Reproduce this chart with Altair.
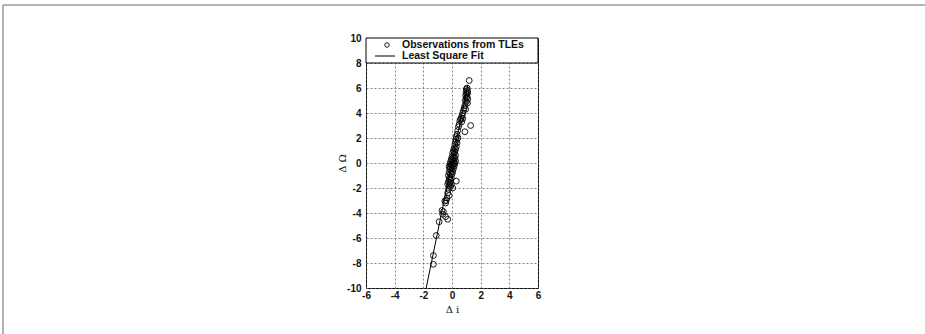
import altair as alt
import pandas as pd

# Observed (delta i, delta Omega) pairs from TLEs
delta_i = [1.2, 1.05, 1.0, 1.08, 0.98, 1.1, 1.02, 0.95, 1.05, 1.0, 1.1, 0.92, 1.0, 1.08,
           0.9, 0.85, 0.95, 0.8, 0.75, 0.7, 0.65, 0.75, 0.6, 0.55, 0.68, 0.5, 1.3, 0.45,
           0.9, 0.4, 0.35, 0.3, 0.42, 0.28, 0.25, 0.35, 0.2, 0.3, 0.15, 0.25, 0.1, 0.2,
           0.05, 0.15, 0.25, 0.0, 0.1, 0.2, -0.05, 0.05, 0.15, 0.25, -0.1, 0.0, 0.1, 0.2,
           -0.15, -0.05, 0.05, 0.15, -0.2, -0.1, 0.0, 0.1, -0.15, -0.05, 0.05, -0.2, -0.1,
           0.0, -0.25, -0.15, -0.05, -0.2, -0.1, 0.3, -0.25, -0.15, -0.3, -0.05, -0.2, -0.1,
           0.05, -0.25, -0.3, -0.2, -0.35, -0.4, -0.5, -0.45, -0.7, -0.6, -0.65, -0.45,
           -0.3, -0.9, -1.1, -1.3, -1.3]
delta_omega = [6.6, 6.0, 5.9, 5.8, 5.7, 5.6, 5.5, 5.4, 5.3, 5.2, 5.1, 5.0, 4.9, 4.8,
               4.6, 4.4, 4.3, 4.2, 4.0, 3.8, 3.6, 3.55, 3.5, 3.4, 3.3, 3.1, 3.0, 2.9,
               2.5, 2.6, 2.3, 2.1, 2.0, 1.9, 1.7, 1.6, 1.5, 1.3, 1.2, 1.1, 1.0, 0.9,
               0.8, 0.7, 0.6, 0.5, 0.45, 0.4, 0.3, 0.25, 0.2, 0.15, 0.1, 0.05, 0.0, -0.05,
               -0.1, -0.15, -0.2, -0.25, -0.3, -0.35, -0.4, -0.45, -0.5, -0.6, -0.7, -0.75, -0.85,
               -0.9, -1.0, -1.1, -1.2, -1.3, -1.4, -1.45, -1.5, -1.6, -1.7, -1.7, -1.8, -1.9,
               -2.0, -2.1, -2.4, -2.6, -2.8, -3.0, -3.05, -3.2, -3.8, -3.9, -4.1, -4.3,
               -4.5, -4.7, -5.8, -7.4, -8.1]

# Least-squares fit: delta_Omega = slope * delta_i + intercept, drawn over this range
fit_slope = 5.6
fit_intercept = 0.08
fit_range = [-1.8, 1.1]

x_ticks = [-6, -4, -2, 0, 2, 4, 6]
y_ticks = [-10, -8, -6, -4, -2, 0, 2, 4, 6, 8, 10]

legend_labels = ["Observations from TLEs", "Least Square Fit"]

W, H = 172, 250

obs = pd.DataFrame({"di": delta_i, "dO": delta_omega})
fit = pd.DataFrame({"di": fit_range,
                    "dO": [fit_slope * v + fit_intercept for v in fit_range]})
one = pd.DataFrame({"k": [0]})

x_scale = alt.Scale(domain=[-6, 6], nice=False, zero=False)
y_scale = alt.Scale(domain=[-10, 10], nice=False, zero=False)

# plain hyphen minus signs on tick labels
plain_label = "datum.value + ''"

x_axis = alt.Axis(values=x_ticks, title="\u0394 i", titleY=21,
                  titleBaseline="middle", titleFontWeight="normal", titleFontSize=10,
                  labelOverlap=False, labelFlush=False, tickCount=len(x_ticks),
                  labelExpr=plain_label)
y_axis = alt.Axis(values=y_ticks, title="\u0394 \u03a9", titleX=-24,
                  titleY=H / 2, titleAngle=-90, titleBaseline="middle",
                  titleFontWeight="normal", titleFontSize=10,
                  labelOverlap=False, labelFlush=False, tickCount=len(y_ticks),
                  labelExpr=plain_label)

points = alt.Chart(obs).mark_point(shape="circle", filled=False, color="black",
                                   size=34, strokeWidth=0.9, opacity=1).encode(
    x=alt.X("di:Q", scale=x_scale, axis=x_axis),
    y=alt.Y("dO:Q", scale=y_scale, axis=y_axis),
)

fit_line = alt.Chart(fit).mark_line(color="black", strokeWidth=1).encode(
    x=alt.X("di:Q", scale=x_scale, axis=x_axis),
    y=alt.Y("dO:Q", scale=y_scale, axis=y_axis),
)

# legend box in the top band of the plot
leg_box = alt.Chart(one).mark_rect(fill="white", stroke="black", strokeWidth=1).encode(
    x=alt.value(0), x2=alt.value(W), y=alt.value(0), y2=alt.value(25))
leg_circle = alt.Chart(one).mark_point(shape="circle", filled=False, color="black",
                                       size=20, strokeWidth=0.9, opacity=1).encode(
    x=alt.value(21), y=alt.value(7))
leg_line = alt.Chart(one).mark_rule(color="black", strokeWidth=1).encode(
    x=alt.value(9), x2=alt.value(29), y=alt.value(18))
leg_text1 = alt.Chart(one).mark_text(
    align="left", baseline="middle", font="Liberation Sans", fontWeight="bold",
    fontSize=10.5, color="#111", text=legend_labels[0]).encode(
    x=alt.value(36), y=alt.value(7))
leg_text2 = alt.Chart(one).mark_text(
    align="left", baseline="middle", font="Liberation Sans", fontWeight="bold",
    fontSize=10.5, color="#111", text=legend_labels[1]).encode(
    x=alt.value(36), y=alt.value(18))

# page frame lines (top and left)
frame_top = alt.Chart(one).mark_rule(color="#9a9a9a", strokeWidth=1.5).encode(
    x=alt.value(-363), x2=alt.value(560), y=alt.value(-33))
frame_left = alt.Chart(one).mark_rule(color="#9a9a9a", strokeWidth=1.5).encode(
    x=alt.value(-363), y=alt.value(-33), y2=alt.value(300))

chart = alt.layer(points, fit_line, leg_box, leg_circle, leg_line, leg_text1, leg_text2,
                  frame_top, frame_left).properties(
    width=W, height=H,
    autosize=alt.AutoSizeParams(type="none"),
    padding={"left": 366, "top": 38, "right": 387, "bottom": 46},
).configure_view(stroke="black", strokeWidth=1).configure_axis(
    grid=True, gridColor="#666", gridDash=[2, 2], gridWidth=0.8,
    domain=False, ticks=False, labelFont="Liberation Sans", labelFontWeight="bold",
    labelFontSize=10, labelColor="#111", labelBound=False,
    titleFont="DejaVu Serif", titleColor="#111",
).configure_axisX(labelPadding=2).configure_axisY(labelPadding=5)

chart.save("out.html", embed_options={"renderer": "svg", "actions": False})
